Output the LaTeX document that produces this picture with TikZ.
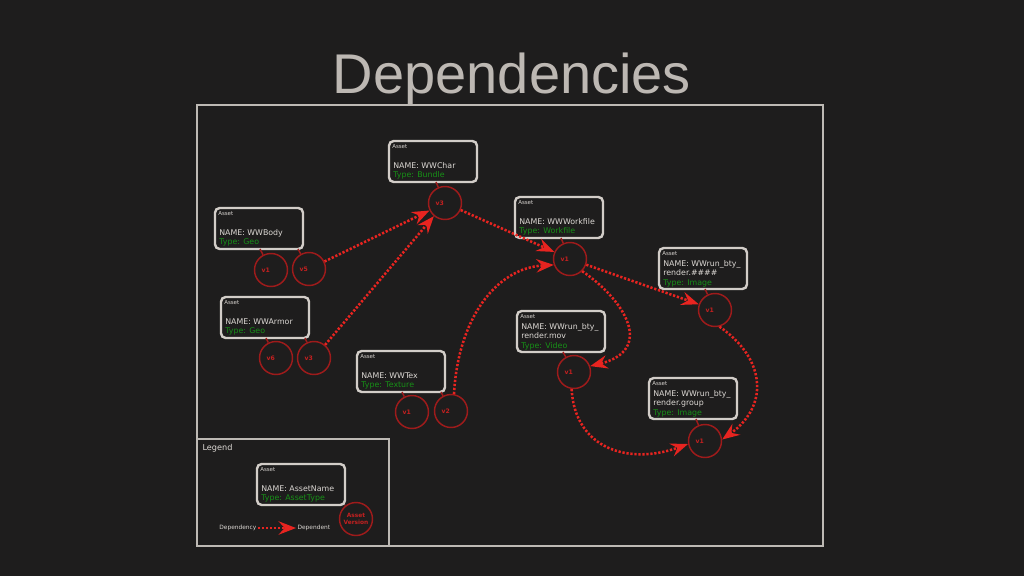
\documentclass[tikz,border=0pt]{standalone}
\usepackage{fontspec}
\setmainfont{DejaVu Sans}
\newfontfamily\titlefont{Liberation Sans}
\usetikzlibrary{arrows.meta,calc}
\definecolor{bg}{HTML}{1E1D1D}
\definecolor{framec}{HTML}{BDB9B4}
\definecolor{boxc}{HTML}{D2CDC8}
\definecolor{txtc}{HTML}{DCD8D4}
\definecolor{greenc}{HTML}{179117}
\definecolor{circc}{HTML}{9E1B1B}
\definecolor{lblc}{HTML}{C42020}
\definecolor{arrc}{HTML}{E82420}
\definecolor{titlec}{HTML}{BDB8B3}
\tikzset{
  abox/.style={draw=boxc, line width=1.8pt, rounded corners=3.5pt, fill=bg,
    minimum width=66pt, minimum height=30.75pt, inner sep=0pt, outer sep=0pt, anchor=north west},
  tinyt/.style={text=txtc, font=\fontsize{4.1}{4.5}\selectfont, anchor=base west, inner sep=0pt},
  namet/.style={text=txtc, font=\fontsize{5.9}{7}\selectfont, anchor=base west, inner sep=0pt},
  typet/.style={namet, text=greenc},
  ver/.style={circle, draw=circc, line width=1.1pt, minimum size=24.75pt, inner sep=0pt},
  vlbl/.style={text=lblc, font=\fontsize{4.6}{5}\selectfont\bfseries, xshift=-4pt, inner sep=0pt},
  vlink/.style={draw=circc, line width=1.1pt},
  dep/.style={draw=arrc, line width=1.9pt, dash pattern=on 1.7pt off 1.3pt,
    -{Stealth[length=13pt,width=10pt,inset=4.5pt]}},
  legt/.style={text=txtc, inner sep=1pt},
}
\newcommand\assetA[5]{%
  \node[abox] (#1) at (#2,#3) {};
  \node[tinyt] (#1a) at ($(#1.north west)+(3,7)$) {Asset};
  \node[namet] (#1n) at ($(#1.north west)+(4,27)$) {#4};
  \node[typet] (#1t) at ($(#1.north west)+(4,36.5)$) {#5};
}
\newcommand\assetB[6]{%
  \node[abox] (#1) at (#2,#3) {};
  \node[tinyt] (#1a) at ($(#1.north west)+(3,7)$) {Asset};
  \node[namet] (#1n) at ($(#1.north west)+(4,18)$) {#4};
  \node[namet] (#1m) at ($(#1.north west)+(4,27.5)$) {#5};
  \node[typet] (#1t) at ($(#1.north west)+(4,37)$) {#6};
}
\begin{document}
\begin{tikzpicture}[x=0.75pt,y=-0.75pt]
\fill[bg] (0,0) rectangle (1024,576);
\useasboundingbox (0,0) rectangle (1024,576);

\node[text=titlec, font=\titlefont\fontsize{42}{48}\selectfont, anchor=base, inner sep=0pt] (title) at (512,93) {Dependencies};

\draw[framec, line width=1.5pt] (197,105) rectangle (823,546);
\draw[framec, line width=0.8pt] (197,439) rectangle (389,546);
\node[legt, anchor=base west, font=\fontsize{6.1}{7}\selectfont] (legend) at (201,450) {Legend};

% assets
\assetA{char}{389}{141}{NAME: WWChar}{Type: Bundle}
\assetA{body}{215}{208}{NAME: WWBody}{Type: Geo}
\assetA{armor}{221}{297}{NAME: WWArmor}{Type: Geo}
\assetA{tex}{357}{351}{NAME: WWTex}{Type: Texture}
\assetA{work}{515}{197}{NAME: WWWorkfile}{Type: Workfile}
\assetB{rend}{659}{248}{NAME: WWrun\_bty\_}{render.\#\#\#\#}{Type: Image}
\assetB{mov}{517}{311}{NAME: WWrun\_bty\_}{render.mov}{Type: Video}
\assetB{grp}{649}{378}{NAME: WWrun\_bty\_}{render.group}{Type: Image}
\assetA{leg}{257}{464}{NAME: AssetName}{Type: AssetType}

% versions
\node[ver, label={[vlbl]center:v3}] (cv3) at (445,203) {};
\node[ver, label={[vlbl]center:v1}] (bv1) at (271,270) {};
\node[ver, label={[vlbl]center:v5}] (bv5) at (309,269) {};
\node[ver, label={[vlbl]center:v6}] (av6) at (276,358) {};
\node[ver, label={[vlbl]center:v3}] (av3) at (314,358) {};
\node[ver, label={[vlbl]center:v1}] (tv1) at (412,412) {};
\node[ver, label={[vlbl]center:v2}] (tv2) at (451,411) {};
\node[ver, label={[vlbl]center:v1}] (wv1) at (570,259) {};
\node[ver, label={[vlbl]center:v1}] (rv1) at (715,310) {};
\node[ver, label={[vlbl]center:v1}] (mv1) at (574,372) {};
\node[ver, label={[vlbl]center:v1}] (gv1) at (705,441) {};
\node[ver, text=lblc, align=center, font=\fontsize{4.4}{5.8}\selectfont\bfseries] (lv) at (356,519) {Asset\\Version};

% box to version links
\draw[vlink] ($(char.south west)+(47,0)$) -- (cv3);
\draw[vlink] ($(body.south west)+(45,0)$) -- (bv1);
\draw[vlink] ($(body.south west)+(83,0)$) -- (bv5);
\draw[vlink] ($(armor.south west)+(45,0)$) -- (av6);
\draw[vlink] ($(armor.south west)+(84,0)$) -- (av3);
\draw[vlink] ($(tex.south west)+(45,0)$) -- (tv1);
\draw[vlink] ($(tex.south west)+(84,0)$) -- (tv2);
\draw[vlink] ($(work.south west)+(46,0)$) -- (wv1);
\draw[vlink] ($(rend.south west)+(46,0)$) -- (rv1);
\draw[vlink] ($(mov.south west)+(46,0)$) -- (mv1);
\draw[vlink] ($(grp.south west)+(47,0)$) -- (gv1);
\draw[vlink] ($(leg.south west)+(88,0)$) -- (lv);

% dependencies
\draw[dep] (bv5) -- (cv3);
\draw[dep] (av3) -- (cv3);
\draw[dep] (cv3) -- (wv1);
\draw[dep] (tv2.80) .. controls (458,320) and (495,268) .. (wv1.200);
\draw[dep] (wv1) -- (rv1);
\draw[dep] (wv1.315) .. controls (625,300) and (655,350) .. (mv1.20);
\draw[dep] (mv1.262) .. controls (575,450) and (630,465) .. (gv1.190);
\draw[dep] (rv1.285) .. controls (765,358) and (770,405) .. (gv1.5);

% legend arrow
\node[legt, anchor=east, font=\fontsize{4.4}{5}\selectfont] (depy) at (258,528) {Dependency};
\node[legt, anchor=west, font=\fontsize{4.4}{5}\selectfont] (dept) at (296,528) {Dependent};
\draw[dep] (depy) -- (dept);
\end{tikzpicture}
\end{document}
